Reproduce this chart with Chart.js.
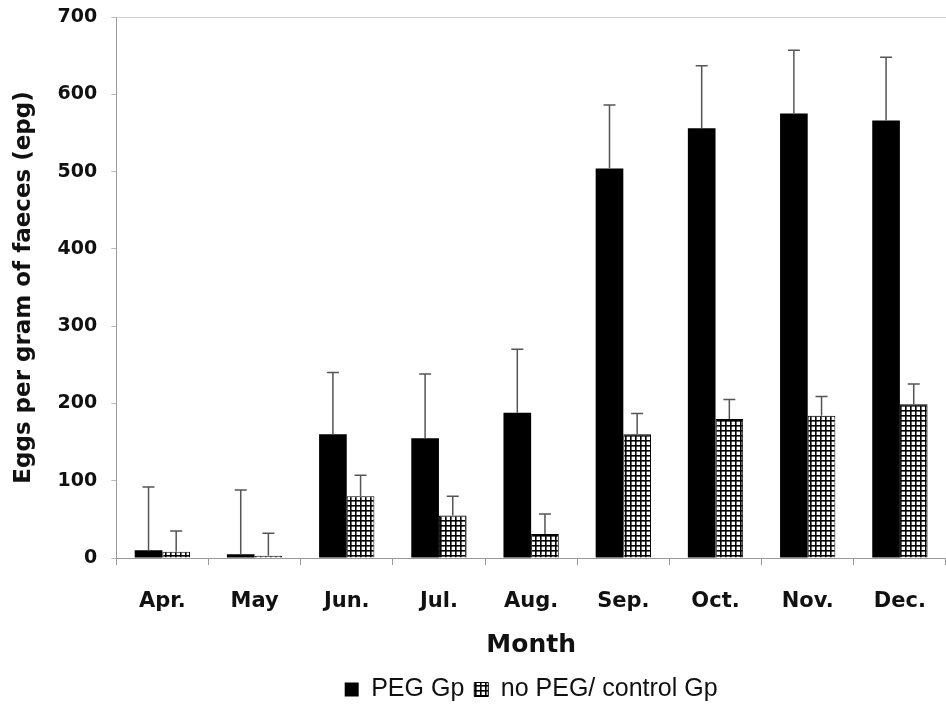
<!DOCTYPE html>
<html>
<head>
<meta charset="utf-8">
<script src="https://cdn.jsdelivr.net/npm/chart.js@4.4.1/dist/chart.umd.min.js"></script>
<style>
  html, body { margin: 0; padding: 0; background: #fff; }
  #wrap { width: 946px; height: 708px; position: relative; }
</style>
</head>
<body>
<div id="wrap"><canvas id="eggChart"></canvas></div>
<script>
// --- data ---
const months = ['Apr.', 'May', 'Jun.', 'Jul.', 'Aug.', 'Sep.', 'Oct.', 'Nov.', 'Dec.'];
const pegMeans = [10, 5, 160, 155, 188, 504, 556, 575, 566];
const pegTops = [92, 88, 240, 238, 270, 586, 637, 657, 648];   // top of error bar
const ctrlMeans = [8, 3, 80, 55, 31, 160, 180, 184, 199];
const ctrlTops = [35, 32, 107, 80, 57, 187, 205, 209, 225];
const yTicks = [0, 100, 200, 300, 400, 500, 600, 700];

const FONT = 'DejaVu Sans, Liberation Sans, Arial, sans-serif';
const LEGEND_FONT = 'Liberation Sans, Arial, sans-serif';

// checkered fill for the control group
function gridPattern() {
    const c = document.createElement('canvas');
    c.width = 5; c.height = 5;
    const g = c.getContext('2d');
    g.fillStyle = '#fff';
    g.fillRect(0, 0, 5, 5);
    g.fillStyle = '#000';
    g.fillRect(0, 0, 5, 1.6);
    g.fillRect(0, 0, 1.6, 5);
    return g.createPattern(c, 'repeat');
}

// upward-only error bars with a cap
const errorBars = {
    id: 'errorBars',
    afterDatasetsDraw(chart) {
        const ctx = chart.ctx;
        const y = chart.scales.y;
        const tops = [pegTops, ctrlTops];
        ctx.save();
        ctx.strokeStyle = '#555';
        ctx.lineWidth = 1.5;
        chart.data.datasets.forEach((ds, i) => {
            chart.getDatasetMeta(i).data.forEach((bar, j) => {
                const yTop = y.getPixelForValue(tops[i][j]);
                ctx.beginPath();
                ctx.moveTo(bar.x, bar.y);
                ctx.lineTo(bar.x, yTop);
                ctx.moveTo(bar.x - 6, yTop);
                ctx.lineTo(bar.x + 6, yTop);
                ctx.stroke();
            });
        });
        ctx.restore();
    }
};

// faint frame line along the top of the plot area
const topLine = {
    id: 'topLine',
    beforeDatasetsDraw(chart) {
        const { ctx, chartArea } = chart;
        ctx.save();
        ctx.strokeStyle = '#cfcfcf';
        ctx.lineWidth = 1;
        ctx.beginPath();
        ctx.moveTo(chartArea.left, chartArea.top + 0.5);
        ctx.lineTo(chartArea.right, chartArea.top + 0.5);
        ctx.stroke();
        ctx.restore();
    }
};

const ctx = document.getElementById('eggChart').getContext('2d');
new Chart(ctx, {
    type: 'bar',
    data: {
        labels: months,
        datasets: [
            {
                label: 'PEG Gp',
                data: pegMeans,
                backgroundColor: '#000',
                borderColor: '#000',
                borderWidth: 0
            },
            {
                label: 'no PEG/ control Gp',
                data: ctrlMeans,
                backgroundColor: gridPattern(),
                borderColor: '#000',
                borderWidth: 1
            }
        ]
    },
    options: {
        responsive: true,
        maintainAspectRatio: false,
        animation: false,
        layout: { padding: { top: 17, right: 0, left: 10, bottom: -4 } },
        datasets: { bar: { categoryPercentage: 0.6, barPercentage: 1.0 } },
        plugins: {
            tooltip: { enabled: false },
            legend: {
                position: 'bottom',
                fullSize: false,
                labels: {
                    color: '#111',
                    font: { family: LEGEND_FONT, size: 25 },
                    boxWidth: 14,
                    boxHeight: 14,
                    padding: 10
                }
            }
        },
        scales: {
            x: {
                afterFit(axis) { axis.paddingRight = 0; },
                grid: { display: true, drawOnChartArea: false, offset: true, tickLength: 7, color: '#999' },
                border: { color: '#999' },
                ticks: {
                    color: '#111',
                    padding: 26,
                    font: { family: FONT, size: 21, weight: 'bold', lineHeight: 1.0 }
                },
                title: {
                    display: true,
                    text: 'Month',
                    color: '#111',
                    padding: { top: -8, bottom: 7 },
                    font: { family: FONT, size: 25, weight: 'bold' }
                }
            },
            y: {
                min: 0,
                max: 700,
                afterBuildTicks(axis) { axis.ticks = yTicks.map(v => ({ value: v })); },
                afterFit(axis) { axis.paddingTop = 0; },
                grid: { display: true, drawOnChartArea: false, tickLength: 5, color: '#bbb' },
                border: { color: '#999' },
                ticks: {
                    color: '#111',
                    padding: 14,
                    font: { family: FONT, size: 19, weight: 'bold' }
                },
                title: {
                    display: true,
                    text: 'Eggs per gram of faeces (epg)',
                    color: '#111',
                    padding: { top: 0, bottom: 6 },
                    font: { family: FONT, size: 23, weight: 'bold' }
                }
            }
        }
    },
    plugins: [errorBars, topLine]
});
</script>
</body>
</html>
